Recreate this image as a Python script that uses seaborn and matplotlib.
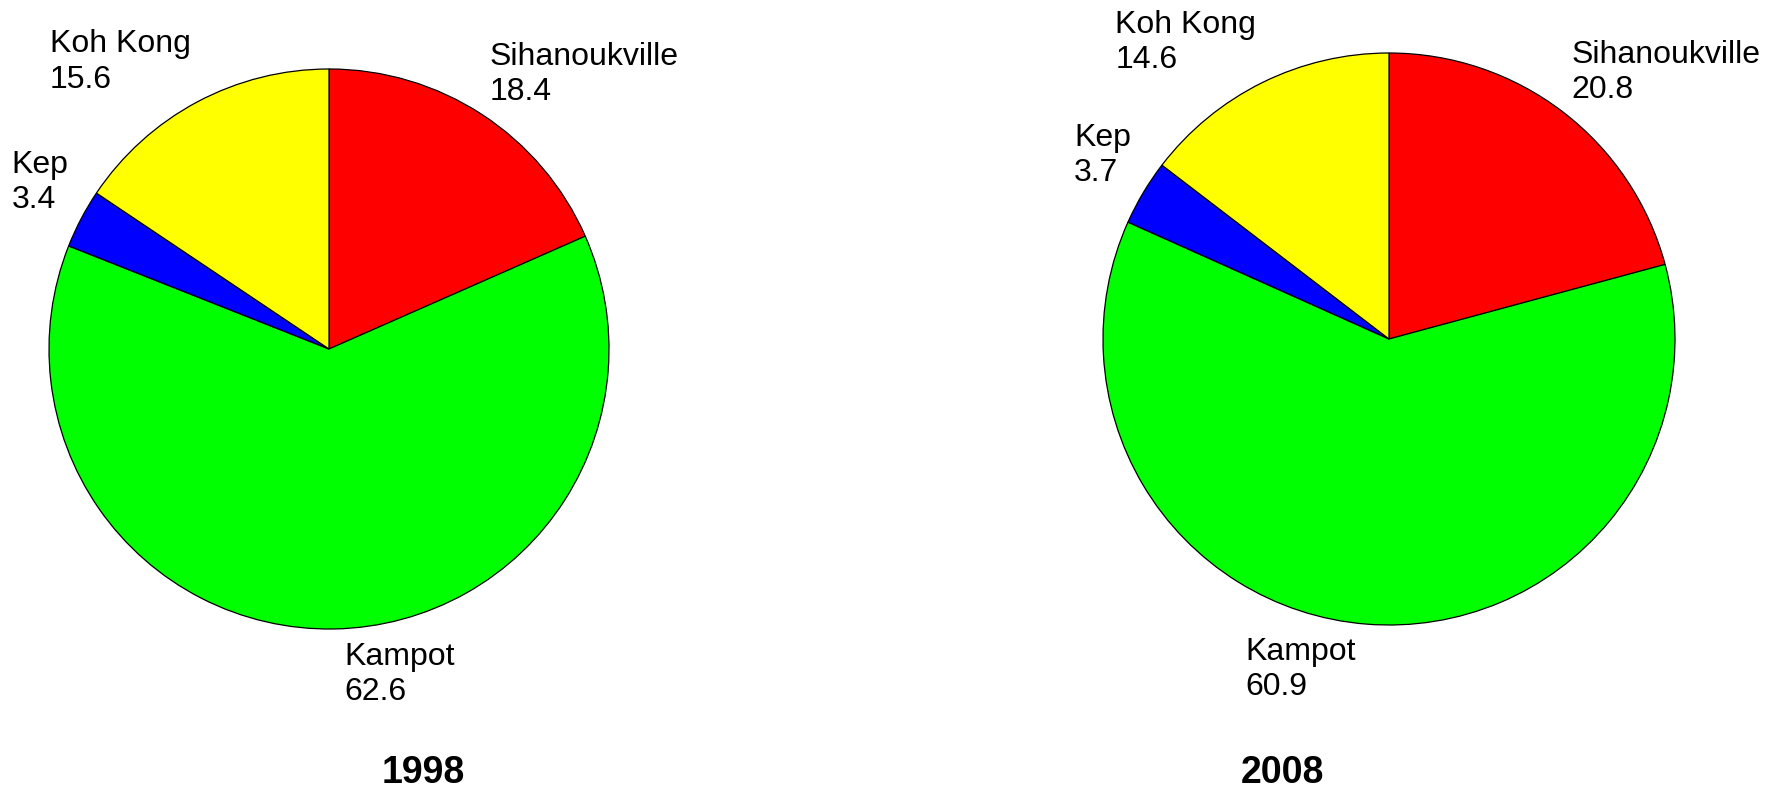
import numpy as np
import matplotlib
matplotlib.use("Agg")
import matplotlib.pyplot as plt
import seaborn as sns

sns.set_theme(style="white")
plt.rcParams['font.family'] = ['Liberation Sans', 'DejaVu Sans']

# data
regions = ['Sihanoukville', 'Kampot', 'Kep', 'Koh Kong']
share_1998 = [18.4, 62.6, 3.4, 15.6]
share_2008 = [20.8, 60.9, 3.7, 14.6]
years = ['1998', '2008']
colors = ['#FF0000', '#00FF00', '#0000FF', '#FFFF00']

W, H = 1778, 791
fig = plt.figure(figsize=(W / 100, H / 100), dpi=100)

# pie centre (px from top-left) and radius, year label x position (fig fraction)
layout = [
    dict(cx=329, cy=349, r=280, title_x=0.238),
    dict(cx=1389, cy=339, r=286, title_x=0.7214),
]


def draw_pie(values, year, lay):
    cx, cy, r = lay['cx'], lay['cy'], lay['r']
    ax = fig.add_axes([(cx - r) / W, 1 - (cy + r) / H, 2 * r / W, 2 * r / H])
    wedges, _ = ax.pie(values, colors=colors, startangle=90, counterclock=False,
                       radius=1.0,
                       wedgeprops=dict(edgecolor='black', linewidth=0.9))
    ax.set_xlim(-1, 1)
    ax.set_ylim(-1, 1)
    ax.set_aspect('equal')
    ax.axis('off')

    # labels outside the slice end, excel style
    for w, name, v in zip(wedges, regions, values):
        ang = np.deg2rad((w.theta1 + w.theta2) / 2)
        c, s = np.cos(ang), np.sin(ang)
        sign = 1 if c >= 0 else -1
        ha = 'left' if sign > 0 else 'right'
        if s > 0.2:
            va = 'bottom'
        elif s < -0.2:
            va = 'top'
        else:
            va = 'center'
        ky = 1.03 if s > 0 else 1.045
        x = 1.05 * c + sign * 0.035 * max(0, -s)
        ax.text(x, ky * s, f"{name}\n{v:.1f}", ha=ha, va=va,
                multialignment='left', color='black',
                fontsize=23, linespacing=1.22, clip_on=False)

    fig.text(lay['title_x'], 0.023, year, ha='center', va='center',
             fontsize=27, fontweight='bold', color='black')


draw_pie(share_1998, years[0], layout[0])
draw_pie(share_2008, years[1], layout[1])

fig.savefig('out.png', dpi=100, facecolor='white')
